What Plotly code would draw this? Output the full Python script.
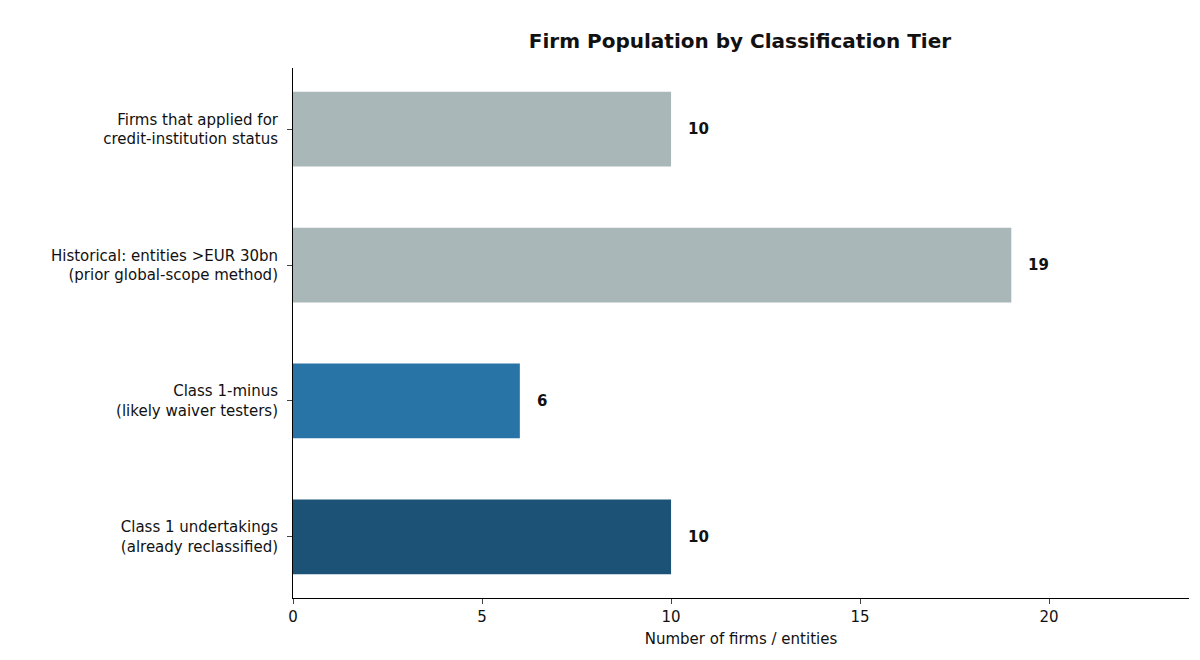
import plotly.graph_objects as go

categories = [
    "Class 1 undertakings<br>(already reclassified)",
    "Class 1-minus<br>(likely waiver testers)",
    "Historical: entities >EUR 30bn<br>(prior global-scope method)",
    "Firms that applied for<br>credit-institution status",
]
values = [10, 6, 19, 10]
colors = ["#1b5276", "#2874a6", "#aab7b8", "#aab7b8"]

fig = go.Figure(go.Bar(
    y=categories, x=values, orientation="h",
    marker=dict(color=colors, line=dict(width=0)),
    width=0.55,
))

for c, v in zip(categories, values):
    fig.add_annotation(x=v + 0.4, y=c, text=f"<b>{v}</b>", showarrow=False,
                       xanchor="left", font=dict(size=15, color="#111"))

fig.update_layout(
    width=1200, height=660,
    paper_bgcolor="white", plot_bgcolor="white",
    font=dict(family="DejaVu Sans", size=15, color="#111"),
    title=dict(text="<b>Firm Population by Classification Tier</b>", x=0.61, xanchor="center",
               y=0.96, font=dict(size=20)),
    margin=dict(l=285, r=19, t=60, b=70),
    showlegend=False,
    bargap=0.45,
)
fig.update_xaxes(range=[0, 23.7], tickvals=[0, 5, 10, 15, 20], showline=True, linecolor="black",
                 ticks="outside", ticklen=5, showgrid=False, zeroline=False,
                 title=dict(text="Number of firms / entities", font=dict(size=15), standoff=8))
fig.update_yaxes(range=[-0.45, 3.45], showline=True, linecolor="black", ticks="outside",
                 ticklen=5, showgrid=False, ticklabelstandoff=6)

fig.write_html("out.html")
